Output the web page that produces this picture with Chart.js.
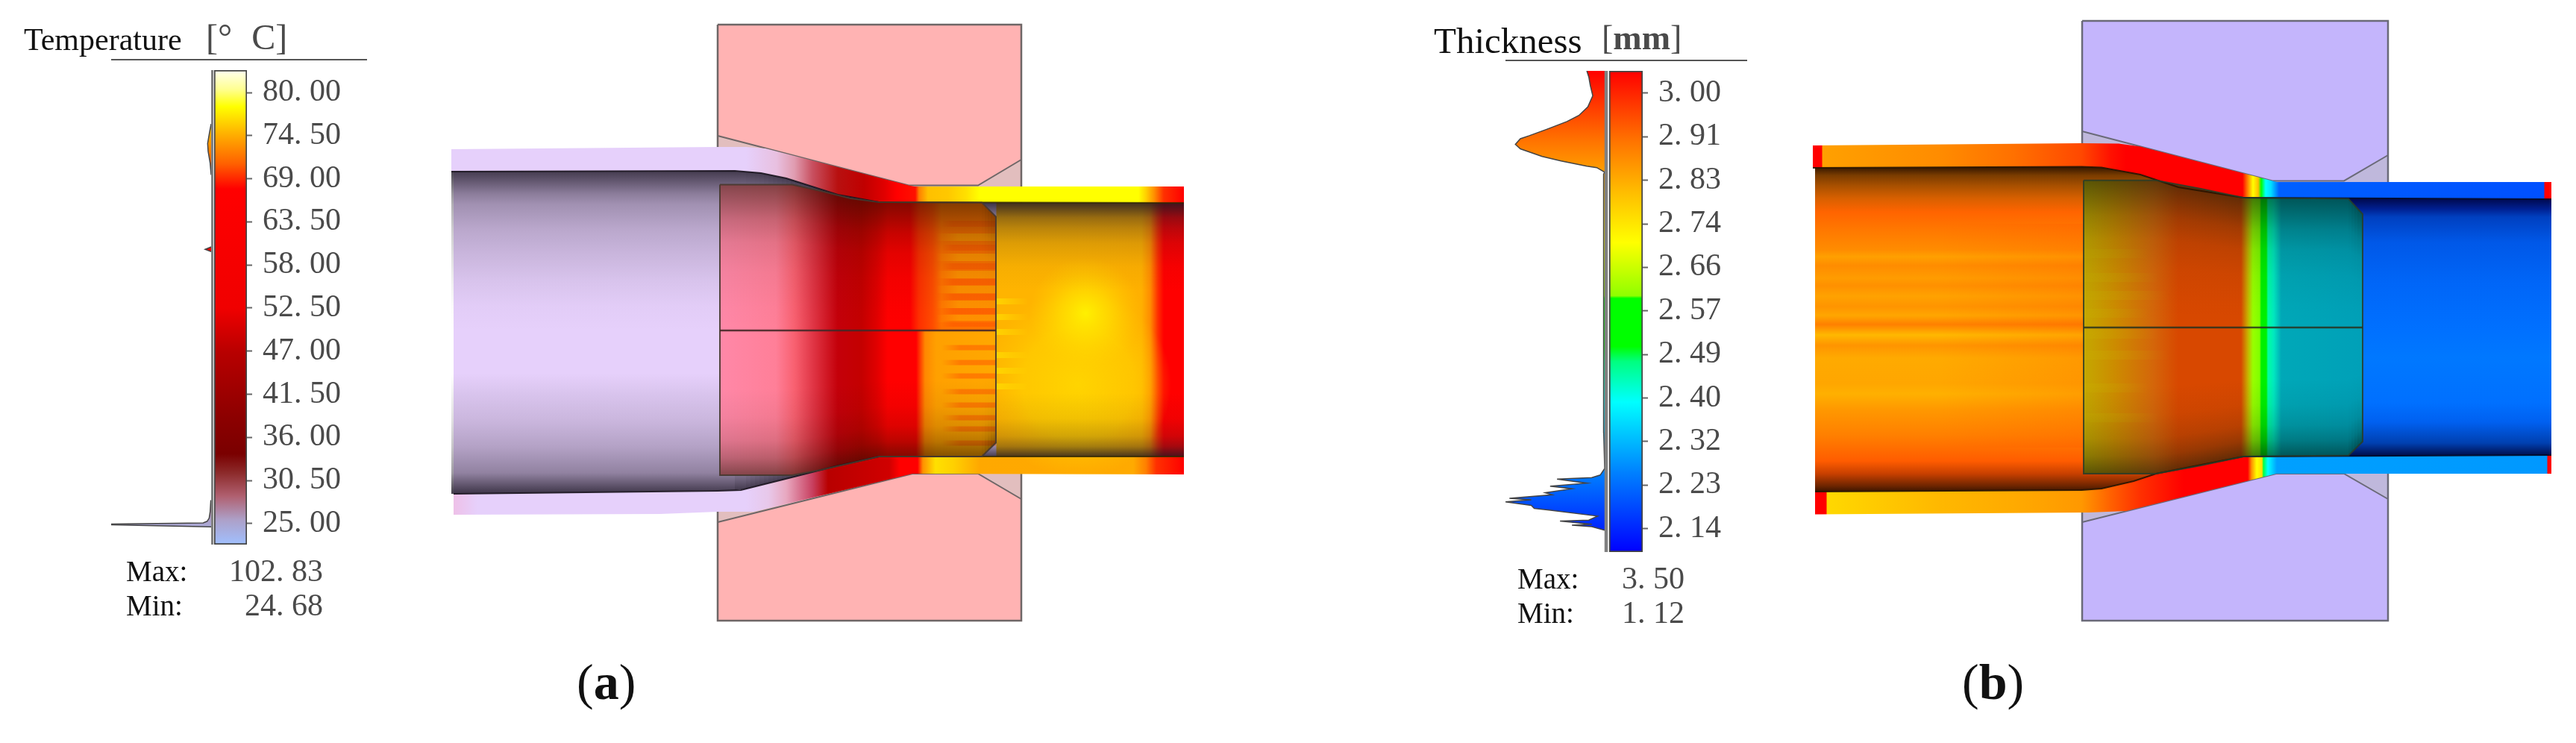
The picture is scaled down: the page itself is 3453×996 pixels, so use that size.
<!DOCTYPE html>
<html><head><meta charset="utf-8">
<script src="https://cdn.jsdelivr.net/npm/chart.js@4"></script>
<style>
html,body{margin:0;padding:0;background:#fff;width:3453px;height:996px;overflow:hidden}
canvas{position:absolute;filter:blur(.7px)}
.t{position:absolute;font-family:"Liberation Serif",serif;line-height:1;white-space:pre;color:#111;filter:blur(.4px)}
.g{color:#4a4a4a}
.rule{position:absolute;height:2px;background:#555}
</style></head><body>
<canvas id="field" style="left:0;top:0"></canvas>
<canvas id="legA" style="left:149px;top:90px"></canvas>
<canvas id="legB" style="left:2018px;top:91px"></canvas>

<div class="t" style="left:32px;top:32px;font-size:42px">Temperature</div>
<div class="t g" style="left:276px;top:26px;font-size:48px;word-spacing:1px">[°  C]</div>
<div class="rule" style="left:149px;top:79px;width:343px"></div>
<div class="t" style="left:169px;top:746px;font-size:39px">Max:</div>
<div class="t" style="left:169px;top:792px;font-size:39px">Min:</div>
<div class="t g" style="right:3020px;top:744px;font-size:42px">102. 83</div>
<div class="t g" style="right:3020px;top:790px;font-size:42px">24. 68</div>
<div class="t" style="left:773px;top:880px;font-size:68px">(<b>a</b>)</div>

<div class="t" style="left:1922px;top:30px;font-size:49px">Thickness</div>
<div class="t g" style="left:2147px;top:28px;font-size:46px">[<b>mm</b>]</div>
<div class="rule" style="left:2018px;top:80px;width:324px"></div>
<div class="t" style="left:2034px;top:756px;font-size:39px">Max:</div>
<div class="t" style="left:2034px;top:802px;font-size:39px">Min:</div>
<div class="t g" style="right:1195px;top:754px;font-size:42px">3. 50</div>
<div class="t g" style="right:1195px;top:800px;font-size:42px">1. 12</div>
<div class="t" style="left:2630px;top:880px;font-size:68px">(<b>b</b>)</div>

<script>
/* ---------- legend data ---------- */
const tempTickValues = [80,74.5,69,63.5,58,52.5,47,41.5,36,30.5,25];
const tempTickLabels = ['80. 00','74. 50','69. 00','63. 50','58. 00','52. 50','47. 00','41. 50','36. 00','30. 50','25. 00'];
const tempHistValues = [24.6,24.85,24.95,25.1,25.3,25.7,26.5,28,69.5,71,72.5,73.5,75,76,59.7,60,60.3];
const tempHistCounts = [0,100,100,8,4,2,1,0.3,0,1,3,3.5,1.5,0,0,6,0];
const thickTickValues = [3,2.914,2.828,2.742,2.656,2.57,2.484,2.398,2.312,2.226,2.14];
const thickTickLabels = ['3. 00','2. 91','2. 83','2. 74','2. 66','2. 57','2. 49','2. 40','2. 32','2. 23','2. 14'];
const thickHistValues = [2.137,2.144,2.147,2.149,2.155,2.157,2.165,2.177,2.18,2.186,2.193,2.197,2.2,2.207,2.211,2.219,2.224,2.23,2.238,2.241,2.246,2.259,2.33,2.4,2.46,2.55,2.62,2.71,2.84,2.844,2.853,2.856,2.866,2.875,2.89,2.899,2.91,2.916,2.929,2.944,2.956,2.973,2.995,3.015,3.032,3.044];
const thickHistCounts = [0,13,33,13,45,16,7,56,71,74,100,74,96,53,60,33,55,18,48,13,4.5,0,1,1.5,1,1,1,1,1,0,8,18,44,63,85,90,85,76,58,38,26,17,12,14.5,16,18];
const tempColorValues = [82.86,80.4,78.2,74.7,70.9,67.7,52.5,46.9,38.5,33.9,31.5,28.5,25.5,22.33];
const tempColors = ['#fffff0','#ffff90','#ffff00','#ffb000','#ff6000','#ff0000','#f00000','#b80000','#8c0000','#7a0000','#8c2a2a','#b06070','#ada0c8','#a0c0ff'];
const thickColorValues = [3.044,2.91,2.8,2.705,2.6,2.595,2.5,2.47,2.39,2.25,2.094];
const thickColors = ['#ff0000','#ff7000','#ffc000','#ffff00','#90ff00','#00ff00','#00ff00','#00ff80','#00ffff','#0080ff','#0000ff'];

/* ---------- panel (a) outlines ---------- */
const dieEdgeTopA = [[962,182],[1218,248.5],[1311,248.5],[1369,214]];
const dieEdgeBotA = [[962,700],[1223,635],[1311,635],[1369,669]];
const dieOuterTopA = [[962,33],[1369,33]];
const dieOuterBotA = [[962,832],[1369,832]];
const outerTopA = [[605,200],[962,197],[1000,197],[1026,199],[1218,248.5],[1226,250],[1587,250]];
const innerTopA = [[605,230],[985,229],[1020,232],[1054,239],[1123,261],[1178,271],[1587,272]];
const innerBotA = [[608,662],[962,658],[993,657],[1061,640],[1120,625],[1178,612],[1587,612]];
const outerBotA = [[608,690],[885,689],[962,686],[1010,686],[1223,635],[1587,636]];
const overlayTopA = [[965,247.5],[1062,247.5],[1100,256],[1140,266],[1178,271],[1316,271.5],[1335,290.5]];
const overlayBotA = [[965,637],[1062,637],[1100,630],[1140,621],[1178,612],[1316,612],[1335,593.5]];
const centerY_A = 443;
const wallTopStopsA = [[605,'#e6d0fb'],[1000,'#e6d0fb'],[1041,'#e8c0e0'],[1065,'#e09cb0'],[1089,'#c85060'],[1123,'#b81010'],[1158,'#c00000'],[1185,'#e00000'],[1202,'#ff0000'],[1227,'#ff1000'],[1232,'#ff8000'],[1244,'#ffc000'],[1271,'#ffc800'],[1295,'#ffe000'],[1313,'#ffff00'],[1526,'#ffff00'],[1536,'#ffd000'],[1547,'#ff9000'],[1560,'#ff3000'],[1587,'#ff0000']];
const wallBotStopsA = [[608,'#eec0e8'],[640,'#e6d0fb'],[1000,'#e6d0fb'],[1030,'#e8c8ea'],[1054,'#e8a8c0'],[1089,'#c84060'],[1110,'#b80000'],[1192,'#d00000'],[1206,'#ff0000'],[1230,'#ff0000'],[1237,'#ff9000'],[1254,'#ffe000'],[1278,'#ffd000'],[1313,'#ffa800'],[1519,'#ffaa00'],[1536,'#ff8000'],[1550,'#ff3000'],[1587,'#ff0000']];
const baseStopsA = [[605,'#e6d0fb'],[1335,'#e6d0fb'],[1336,'#ffb400'],[1440,'#ffb400'],[1530,'#ffb000'],[1542,'#ff8c00'],[1552,'#ff3000'],[1560,'#ff0000'],[1587,'#ff0000']];
const overlayUpStopsA = [[965,'#ff88a8'],[1040,'#ff7f98'],[1065,'#f86070'],[1090,'#e03545'],[1123,'#c4000a'],[1155,'#c40000'],[1175,'#e00000'],[1190,'#ff0000'],[1220,'#ff0000'],[1232,'#ff3000'],[1250,'#ff4c00'],[1262,'#ff7000'],[1335,'#ff7400']];
const overlayLoStopsA = [[965,'#ff88a8'],[1040,'#ff7f98'],[1065,'#f86070'],[1090,'#e03545'],[1123,'#c4000a'],[1155,'#c40000'],[1175,'#e00000'],[1190,'#ff0000'],[1228,'#ff0000'],[1240,'#ff8800'],[1255,'#ffa000'],[1335,'#ffa800']];
const amberStreaksA = [318,345,368,388,408,427];
const redStreaksA = [466,486,504,525,543,560,575,594];
const orangeStreaksA = [300,332,357,378,398,417,434];
const yellowStreaksA = [404,425,445,476,497,518];
const hotSpotA = [[1455,420]];
const warmPatchA = [[1445,515]];

/* ---------- panel (b) outlines ---------- */
const dieEdgeTopB = [[2791,176],[3046,242.4],[3142,242.4],[3201,208]];
const dieEdgeBotB = [[2791,700],[3051,635],[3142,635],[3201,669]];
const dieOuterTopB = [[2791,28],[3201,28]];
const dieOuterBotB = [[2791,832],[3201,832]];
const outerTopB = [[2430,195],[2790,192],[2840,192.5],[2869,196.5],[3046,242.4],[3052,244],[3420,244]];
const innerTopB = [[2430,225],[2790,223.5],[2817,224.5],[2869,234],[2920,251],[3007,265],[3420,267]];
const innerBotB = [[2433,659],[2790,657],[2817,655],[2860,645],[2890,635],[3007,612],[3420,610]];
const outerBotB = [[2433,689.5],[2800,687],[2850,685],[3051,635],[3420,635]];
const overlayTopB = [[2793,241.7],[2890,241.7],[2950,253],[3007,265],[3148,266.5],[3167,287]];
const overlayBotB = [[2793,635],[2890,635],[2950,624],[3007,612],[3148,610.5],[3167,592]];
const centerY_B = 439;
const wallTopStopsB = [[2430,'#ff0000'],[2442,'#ff0000'],[2443,'#ffa000'],[2600,'#ff8c00'],[2700,'#ff7000'],[2790,'#ff4800'],[2830,'#ff1000'],[2850,'#ff0000'],[3006,'#ff0000'],[3011,'#ff6000'],[3020,'#ffff00'],[3027,'#ffc000'],[3031,'#00ff00'],[3037,'#00ffff'],[3044,'#00e0ff'],[3055,'#0060ff'],[3410,'#0050ff'],[3411,'#ff0000'],[3420,'#ff0000']];
const wallBotStopsB = [[2433,'#ff0000'],[2448,'#ff0000'],[2449,'#ffd800'],[2600,'#ffb800'],[2700,'#ffaa00'],[2790,'#ff9800'],[2830,'#ff6000'],[2869,'#ff3000'],[2927,'#ff0000'],[3013,'#ff0000'],[3018,'#ff9000'],[3025,'#ffff00'],[3032,'#ffe000'],[3034,'#00ff40'],[3040,'#00ffff'],[3052,'#00a0ff'],[3414,'#0098ff'],[3415,'#ff0000'],[3420,'#ff0000']];
const leftYStopsB = [[225,'#3a1a00'],[235,'#7a3c00'],[249,'#a85000'],[266,'#d86000'],[284,'#ff6400'],[308,'#ff7800'],[335,'#ff8c00'],[344,'#ffa000'],[356,'#ff8c00'],[373,'#ff9c00'],[383,'#ff9000'],[397,'#ffa200'],[411,'#ff9400'],[423,'#ffa600'],[435,'#ff8000'],[449,'#ffb800'],[463,'#ff9400'],[480,'#ffaa00'],[514,'#ffa600'],[528,'#ffb000'],[549,'#ff9800'],[583,'#ff8000'],[618,'#ff5c00'],[635,'#c84000'],[652,'#6a2400'],[659,'#3a1400']];
const rightYStopsB = [[267,'#000a50'],[280,'#001f90'],[291,'#0040c0'],[325,'#0058e8'],[380,'#0066f8'],[440,'#0070ff'],[480,'#0078ff'],[540,'#0070ff'],[566,'#0060f0'],[594,'#0040b0'],[610,'#001050']];
const overlayStopsB = [[2793,'#c4a800'],[2834,'#cc8c00'],[2886,'#d4660a'],[2920,'#d84800'],[3004,'#d84800'],[3013,'#c8b000'],[3020,'#98ff00'],[3029,'#80ff00'],[3031,'#00f000'],[3038,'#00f000'],[3040,'#00ffa0'],[3048,'#00e8c0'],[3058,'#00a8b8'],[3167,'#00a0b8']];
const oliveStreaksB = [340,372,396,420,448,476,520,560];

/* ---------- shared shading (fraction across the tube, darkness) ---------- */
const shadeLeft = [[0,.8],[.07,.45],[.103,.34],[.18,.22],[.26,.14],[.34,.07],[.42,.02],[.5,0],[.63,0],[.7,.07],[.78,.14],[.86,.25],[.94,.42],[1,.8]];
const shadeRight = [[0,.85],[.03,.65],[.06,.45],[.1,.3],[.16,.15],[.25,.04],[.35,0],[.75,0],[.85,.06],[.92,.2],[.96,.4],[1,.8]];
const shadeOverlay = [[0,.55],[.06,.4],[.12,.25],[.2,.12],[.3,.05],[.42,.01],[.5,0],[.7,0],[.8,.05],[.88,.15],[.94,.3],[1,.55]];

/* ---------- helpers ---------- */
const pts = a => a.map(([x,y]) => ({x,y}));
const hGrad = st => c => {
  if(!c.chart.chartArea) return 'transparent';
  const sx = c.chart.scales.x, a = st[0][0], b = st[st.length-1][0];
  const g = c.chart.ctx.createLinearGradient(sx.getPixelForValue(a),0,sx.getPixelForValue(b),0);
  st.forEach(([x,col]) => g.addColorStop((x-a)/(b-a),col));
  return g;
};
const vGrad = st => c => {
  if(!c.chart.chartArea) return 'transparent';
  const sy = c.chart.scales.y, a = st[0][0], b = st[st.length-1][0];
  const g = c.chart.ctx.createLinearGradient(0,sy.getPixelForValue(a),0,sy.getPixelForValue(b));
  st.forEach(([y,col]) => g.addColorStop((y-a)/(b-a),col));
  return g;
};
const layers = [];
const lineBase = {type:'line',pointRadius:0,borderWidth:0,tension:0,borderColor:'transparent'};
function band(up,lo,color){
  layers.unshift(
    {...lineBase,data:pts(up),fill:'+1',backgroundColor:color},
    {...lineBase,data:pts(lo),fill:false});
}
function stroke(p,color,w){
  layers.unshift({...lineBase,data:pts(p),fill:false,borderColor:color,borderWidth:w});
}
function glow(p,r,stops){
  layers.unshift({...lineBase,data:pts(p),fill:false,pointRadius:r,pointBorderWidth:0,
    pointBackgroundColor:c=>{
      if(!c.chart.chartArea) return 'transparent';
      const s=c.chart.scales,x=s.x.getPixelForValue(p[0][0]),y=s.y.getPixelForValue(p[0][1]),
        g=c.chart.ctx.createRadialGradient(x,y,0,x,y,r);
      stops.forEach(([f,col])=>g.addColorStop(f,col));return g;}});
}
function at(p,x){
  for(let i=1;i<p.length;i++) if(x<=p[i][0]){
    const [x0,y0]=p[i-1],[x1,y1]=p[i];
    return y0+(y1-y0)*(x-x0)/(x1-x0);
  }
  return p[p.length-1][1];
}
const steps=(a,b,n)=>Array.from({length:Math.ceil((b-a)/n)},(_,i)=>a+i*n);
function shadeSlices(up,lo,xs,stopsFor,tint){
  for(let i=0;i+1<xs.length;i++){
    const a=xs[i],b=xs[i+1];
    const ya=at(up,a),yb=at(up,b),za=at(lo,a),zb=at(lo,b);
    const t=(ya+yb)/2,h=(za+zb)/2-t,st=stopsFor((a+b)/2);
    band([[a,ya],[b,yb]],[[a,za],[b,zb]],
      vGrad(st.map(([f,v])=>[t+f*h,`rgba(${tint},${v})`])));
  }
}
function streak(x0,x1,fade,y,h,rgb,alpha){
  band([[x0,y-h],[x1,y-h]],[[x0,y+h],[x1,y+h]],
    fade?hGrad([[x0,`rgba(${rgb},0)`],[x0+fade,`rgba(${rgb},${alpha})`],[x1,`rgba(${rgb},${alpha})`]])
        :hGrad([[x0,`rgba(${rgb},${alpha})`],[x1,`rgba(${rgb},0)`]]));
}
function diePair(outT,edgeT,outB,edgeB,under,die,line){
  band([[outT[0][0],edgeT[0][1]],[outT[1][0],edgeT[0][1]]],[[outB[0][0],edgeB[0][1]],[outB[1][0],edgeB[0][1]]],under);
  band(outT,edgeT,die);
  band(edgeB,outB,die);
  stroke(edgeT,line,2); stroke(edgeB,line,2);
  stroke([outT[0],outT[1],outB[1],outB[0],outT[0]],line,2.5);
}

/* ---------- panel (a) painter's order ---------- */
diePair(dieOuterTopA,dieEdgeTopA,dieOuterBotA,dieEdgeBotA,'#e2bebe','#ffb3b3','#6e6666');
band(outerTopA,innerTopA,hGrad(wallTopStopsA));
band(innerBotA,outerBotA,hGrad(wallBotStopsA));
band(innerTopA,innerBotA,hGrad(baseStopsA));
glow(warmPatchA,125,[[0,'rgba(255,220,0,.8)'],[.6,'rgba(255,215,0,.55)'],[1,'rgba(255,205,0,0)']]);
glow(hotSpotA,75,[[0,'rgba(255,240,0,1)'],[.45,'rgba(255,228,0,.6)'],[1,'rgba(255,210,0,0)']]);
yellowStreaksA.forEach(y=>streak(1336,1378,0,y,4,'255,235,0',.55));
shadeSlices(innerTopA,innerBotA,[605,985,...steps(1000,1178,6),1178,1587],
  x=>x<1178?shadeLeft:shadeRight,'28,22,36');
band(overlayTopA,[[965,centerY_A],[1335,centerY_A]],hGrad(overlayUpStopsA));
band([[965,centerY_A],[1335,centerY_A]],overlayBotA,hGrad(overlayLoStopsA));
amberStreaksA.forEach(y=>streak(1255,1335,30,y,5,'255,165,0',.6));
orangeStreaksA.forEach(y=>streak(1262,1335,15,y,4,'255,80,0',.45));
redStreaksA.forEach(y=>streak(1262,1335,25,y,3.5,'255,90,0',.55));
shadeSlices(overlayTopA,overlayBotA,[965,...steps(1062,1178,4),1178,1316,...steps(1316,1335,4),1335],()=>shadeOverlay,'30,15,0');
stroke(innerTopA.slice(0,6),'rgba(25,20,30,.9)',2);
stroke(innerBotA.slice(0,6),'rgba(25,20,30,.9)',2);
stroke(innerTopA.slice(5),'rgba(50,40,0,.8)',2);
stroke(innerBotA.slice(5),'rgba(50,40,0,.8)',2);
stroke([...overlayTopA,...overlayBotA.slice().reverse(),overlayTopA[0]],'rgba(70,55,45,.9)',2);
stroke([[965,centerY_A],[1335,centerY_A]],'rgba(70,40,40,.9)',2.5);

/* ---------- panel (b) painter's order ---------- */
diePair(dieOuterTopB,dieEdgeTopB,dieOuterBotB,dieEdgeBotB,'#bfb8dc','#c4b5fc','#6a6a78');
band(outerTopB,innerTopB,hGrad(wallTopStopsB));
band(innerBotB,outerBotB,hGrad(wallBotStopsB));
band(innerTopB.slice(0,6),innerBotB.slice(0,6),vGrad(leftYStopsB));
band([innerTopB[5],innerTopB[6]],[innerBotB[5],innerBotB[6]],vGrad(rightYStopsB));
band([[2600,300],[2800,300]],[[2600,600],[2800,600]],hGrad([[2600,'rgba(255,80,0,0)'],[2800,'rgba(255,80,0,.2)']]));
band(overlayTopB,overlayBotB,hGrad(overlayStopsB));
oliveStreaksB.forEach((y,i)=>streak(2793,2880+(i%3)*14,0,y,6,'200,170,0',.4));
shadeSlices(overlayTopB,overlayBotB,[2793,...steps(2890,3007,4),3007,3148,...steps(3148,3167,4),3167],()=>shadeOverlay,'0,20,10');
stroke(innerTopB.slice(0,6),'rgba(40,20,0,.9)',2);
stroke(innerBotB.slice(0,6),'rgba(40,20,0,.9)',2);
stroke(innerTopB.slice(5),'rgba(0,10,40,.9)',2);
stroke(innerBotB.slice(5),'rgba(0,10,40,.9)',2);
stroke([...overlayTopB,...overlayBotB.slice().reverse(),overlayTopB[0]],'rgba(40,60,40,.85)',2);
stroke([[2793,centerY_B],[3167,centerY_B]],'rgba(40,50,30,.85)',2.5);

/* ---------- draw field chart ---------- */
const fc = document.getElementById('field');
fc.width=3453; fc.height=996; fc.style.width='3453px'; fc.style.height='996px';
new Chart(fc,{type:'line',data:{datasets:layers},options:{
  responsive:false,animation:false,devicePixelRatio:1,
  layout:{padding:0,autoPadding:false},
  plugins:{legend:{display:false},tooltip:{enabled:false},title:{display:false}},
  events:[],
  scales:{
    x:{type:'linear',min:0,max:3453,display:false},
    y:{type:'linear',min:0,max:996,reverse:true,display:false}
  }
}});

/* ---------- legends ---------- */
function legend(id,w,h,axisW,o){
  const cv=document.getElementById(id);
  cv.width=w;cv.height=h;cv.style.width=w+'px';cv.style.height=h+'px';
  const cg=c=>{
    if(!c.chart.chartArea) return 'transparent';
    const sy=c.chart.scales.y,
      g=c.chart.ctx.createLinearGradient(0,sy.getPixelForValue(o.yMax),0,sy.getPixelForValue(o.yMin));
    o.colorValues.forEach((v,i)=>g.addColorStop((o.yMax-v)/(o.yMax-o.yMin),o.colors[i]));return g;};
  const order=o.histValues.map((v,i)=>({y:v,x:o.histCounts[i]}));
  const parts=o.histParts?o.histParts(order):[order];
  const ds=[{type:'bar',data:[{x:o.barAt,y:[o.yMin,o.yMax]}],barThickness:o.barW,backgroundColor:cg,borderColor:'#444',borderWidth:2,borderSkipped:false,order:0},
    {type:'line',indexAxis:'y',data:[{x:o.railAt,y:o.yMin},{x:o.railAt,y:o.yMax}],borderColor:'#808080',borderWidth:o.railW,pointRadius:0,fill:false,order:1}];
  parts.forEach(p=>ds.push({type:'line',indexAxis:'y',data:p,pointRadius:0,tension:0,borderColor:'#444',borderWidth:1.5,fill:'origin',backgroundColor:cg,order:2}));
  new Chart(cv,{type:'bar',data:{datasets:ds},options:{
    responsive:false,animation:false,devicePixelRatio:1,events:[],
    layout:{padding:{top:o.padT,bottom:o.padB,left:0,right:0},autoPadding:false},
    plugins:{legend:{display:false},tooltip:{enabled:false}},
    scales:{
      x:{type:'linear',reverse:true,min:o.xMin,max:100,display:false,offset:false},
      y:{type:'linear',position:'right',min:o.yMin,max:o.yMax,beginAtZero:false,
        afterBuildTicks:s=>{s.ticks=o.tickValues.map(v=>({value:v}));},
        afterFit:s=>{s.width=axisW;s.paddingTop=0;s.paddingBottom=0;},
        border:{display:false},
        grid:{drawOnChartArea:false,drawTicks:true,tickLength:7,tickColor:'#666',tickWidth:2},
        ticks:{autoSkip:false,maxRotation:0,minRotation:0,padding:14,color:'#4a4a4a',
          font:{family:'"Liberation Serif"',size:42},
          callback:(v,i)=>o.tickLabels[i]}
      }
    }
  }});
}
const sortBy=a=>a.slice().sort((p,q)=>p.y-q.y);
legend('legA',340,644,158,{yMin:22.33,yMax:82.86,padT:4,padB:4,xMin:-35.8,barAt:-19.4,barW:44,railAt:-1.1,railW:3,
  tickValues:tempTickValues,tickLabels:tempTickLabels,colorValues:tempColorValues,colors:tempColors,
  histValues:tempHistValues,histCounts:tempHistCounts,
  histParts:o=>[sortBy(o.slice(0,8)),sortBy(o.slice(8,14)),sortBy(o.slice(14))]});
legend('legB',314,653,130,{yMin:2.094,yMax:3.044,padT:4,padB:4,xMin:-38.35,barAt:-21.4,barW:45,railAt:-1.5,railW:4.5,
  tickValues:thickTickValues,tickLabels:thickTickLabels,colorValues:thickColorValues,colors:thickColors,
  histValues:thickHistValues,histCounts:thickHistCounts});
</script>
</body></html>
